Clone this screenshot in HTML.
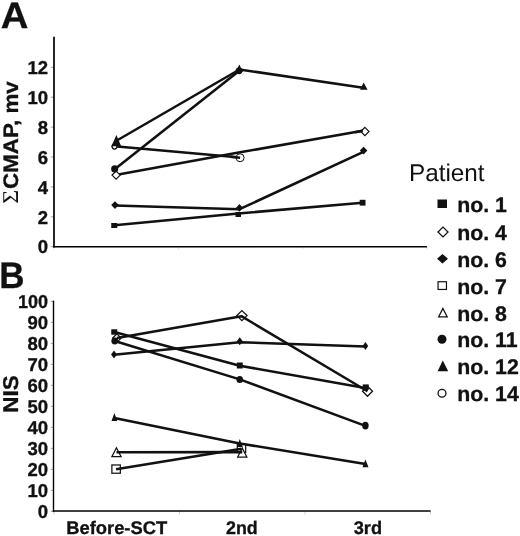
<!DOCTYPE html>
<html lang="en"><head><meta charset="utf-8"><title>Figure</title>
<style>
html,body{margin:0;padding:0;background:#fff;}
body{width:520px;height:536px;overflow:hidden;font-family:"Liberation Sans",Arial,Helvetica,sans-serif;}
svg{display:block;opacity:0.999;will-change:transform;}
</style></head><body>
<svg width="520" height="536" viewBox="0 0 520 536" text-rendering="geometricPrecision">
<rect width="520" height="536" fill="#fff"/>
<g stroke="#999" stroke-width="0.9" fill="none">
<line x1="50.8" y1="246.70" x2="54" y2="246.70"/>
<line x1="50.8" y1="216.80" x2="54" y2="216.80"/>
<line x1="50.8" y1="186.90" x2="54" y2="186.90"/>
<line x1="50.8" y1="157.00" x2="54" y2="157.00"/>
<line x1="50.8" y1="127.10" x2="54" y2="127.10"/>
<line x1="50.8" y1="97.20" x2="54" y2="97.20"/>
<line x1="50.8" y1="67.30" x2="54" y2="67.30"/>
<line x1="50.8" y1="511.35" x2="54" y2="511.35"/>
<line x1="50.8" y1="490.35" x2="54" y2="490.35"/>
<line x1="50.8" y1="469.35" x2="54" y2="469.35"/>
<line x1="50.8" y1="448.35" x2="54" y2="448.35"/>
<line x1="50.8" y1="427.35" x2="54" y2="427.35"/>
<line x1="50.8" y1="406.35" x2="54" y2="406.35"/>
<line x1="50.8" y1="385.35" x2="54" y2="385.35"/>
<line x1="50.8" y1="364.35" x2="54" y2="364.35"/>
<line x1="50.8" y1="343.35" x2="54" y2="343.35"/>
<line x1="50.8" y1="322.35" x2="54" y2="322.35"/>
<line x1="50.8" y1="301.35" x2="54" y2="301.35"/>
</g>
<g stroke="#ccc" stroke-width="1" fill="none">
<line x1="54" y1="511" x2="54" y2="514.5"/>
<line x1="179.5" y1="511" x2="179.5" y2="514.5"/>
<line x1="305" y1="511" x2="305" y2="514.5"/>
<line x1="430.5" y1="511" x2="430.5" y2="514.5"/>
<line x1="54" y1="246.5" x2="54" y2="249.5" stroke="#e4e4e4"/>
<line x1="178.5" y1="246.5" x2="178.5" y2="249.5" stroke="#e4e4e4"/>
<line x1="303" y1="246.5" x2="303" y2="249.5" stroke="#e4e4e4"/>
<line x1="427" y1="246.5" x2="427" y2="249.5" stroke="#e4e4e4"/>
</g>
<g stroke="#000" fill="none">
<line x1="54" y1="36.8" x2="54" y2="247.4" stroke-width="1.7"/>
<line x1="53.15" y1="246.65" x2="427" y2="246.65" stroke-width="1.5"/>
<line x1="53.5" y1="300.6" x2="53.5" y2="511.7" stroke-width="1.4"/>
<line x1="52.8" y1="511.0" x2="430.6" y2="511.0" stroke-width="1.4"/>
</g>
<g font-family="'Liberation Sans', Arial, Helvetica, sans-serif" fill="#111">
<text transform="translate(0.7,28.1) scale(1.064,1.02)" font-size="36" text-anchor="start" font-weight="bold" stroke="#111" stroke-width="0.3">A</text>
<text transform="translate(-0.7,288) scale(0.985,1.04)" font-size="35.5" text-anchor="start" font-weight="bold" stroke="#111" stroke-width="0.3">B</text>
<text transform="translate(48,253.4) scale(1.09,1.1)" font-size="17" text-anchor="end" font-weight="bold" stroke="#111" stroke-width="0.3">0</text>
<text transform="translate(48,223.5) scale(1.09,1.1)" font-size="17" text-anchor="end" font-weight="bold" stroke="#111" stroke-width="0.3">2</text>
<text transform="translate(48,193.6) scale(1.09,1.1)" font-size="17" text-anchor="end" font-weight="bold" stroke="#111" stroke-width="0.3">4</text>
<text transform="translate(48,163.7) scale(1.09,1.1)" font-size="17" text-anchor="end" font-weight="bold" stroke="#111" stroke-width="0.3">6</text>
<text transform="translate(48,133.8) scale(1.09,1.1)" font-size="17" text-anchor="end" font-weight="bold" stroke="#111" stroke-width="0.3">8</text>
<text transform="translate(48,103.9) scale(1.09,1.1)" font-size="17" text-anchor="end" font-weight="bold" stroke="#111" stroke-width="0.3">10</text>
<text transform="translate(48,74.0) scale(1.09,1.1)" font-size="17" text-anchor="end" font-weight="bold" stroke="#111" stroke-width="0.3">12</text>
<text transform="translate(48,518.05) scale(1.09,1.1)" font-size="17" text-anchor="end" font-weight="bold" stroke="#111" stroke-width="0.3">0</text>
<text transform="translate(48,497.05) scale(1.09,1.1)" font-size="17" text-anchor="end" font-weight="bold" stroke="#111" stroke-width="0.3">10</text>
<text transform="translate(48,476.05) scale(1.09,1.1)" font-size="17" text-anchor="end" font-weight="bold" stroke="#111" stroke-width="0.3">20</text>
<text transform="translate(48,455.05) scale(1.09,1.1)" font-size="17" text-anchor="end" font-weight="bold" stroke="#111" stroke-width="0.3">30</text>
<text transform="translate(48,434.05) scale(1.09,1.1)" font-size="17" text-anchor="end" font-weight="bold" stroke="#111" stroke-width="0.3">40</text>
<text transform="translate(48,413.05) scale(1.09,1.1)" font-size="17" text-anchor="end" font-weight="bold" stroke="#111" stroke-width="0.3">50</text>
<text transform="translate(48,392.05) scale(1.09,1.1)" font-size="17" text-anchor="end" font-weight="bold" stroke="#111" stroke-width="0.3">60</text>
<text transform="translate(48,371.05) scale(1.09,1.1)" font-size="17" text-anchor="end" font-weight="bold" stroke="#111" stroke-width="0.3">70</text>
<text transform="translate(48,350.05) scale(1.09,1.1)" font-size="17" text-anchor="end" font-weight="bold" stroke="#111" stroke-width="0.3">80</text>
<text transform="translate(48,329.05) scale(1.09,1.1)" font-size="17" text-anchor="end" font-weight="bold" stroke="#111" stroke-width="0.3">90</text>
<text transform="translate(48,308.05) scale(1.06,1.1)" font-size="17" text-anchor="end" font-weight="bold" stroke="#111" stroke-width="0.3">100</text>
<text transform="translate(116.7,534) scale(1.08,1.07)" font-size="17" text-anchor="middle" font-weight="bold" stroke="#111" stroke-width="0.3">Before-SCT</text>
<text transform="translate(241.9,534) scale(1.05,1.07)" font-size="17" text-anchor="middle" font-weight="bold" stroke="#111" stroke-width="0.3">2nd</text>
<text transform="translate(367.9,534) scale(1.07,1.07)" font-size="17" text-anchor="middle" font-weight="bold" stroke="#111" stroke-width="0.3">3rd</text>
<text transform="translate(17.7,203.8) rotate(-90) scale(1.064,1)" font-size="21" font-weight="bold" stroke="#111" stroke-width="0.3"><tspan font-family="'Liberation Serif', 'DejaVu Serif', serif" font-weight="normal" font-size="22.6" stroke="none">Σ</tspan><tspan x="8.16"> CMAP, mv</tspan></text>
<text transform="translate(17.7,394) rotate(-90) scale(1.05,1.0)" font-size="21.4" text-anchor="middle" font-weight="bold" stroke="#111" stroke-width="0.3">NIS</text>
<text transform="translate(409.0,180.9) scale(1.075,1.07)" font-size="22.6" text-anchor="start" font-weight="normal">Patient</text>
<text transform="translate(457.2,211.8) scale(1.03,1.02)" font-size="20.7" text-anchor="start" font-weight="bold" stroke="#111" stroke-width="0.3">no. 1</text>
<text transform="translate(457.2,239.8) scale(1.03,1.02)" font-size="20.7" text-anchor="start" font-weight="bold" stroke="#111" stroke-width="0.3">no. 4</text>
<text transform="translate(457.2,266.8) scale(1.03,1.02)" font-size="20.7" text-anchor="start" font-weight="bold" stroke="#111" stroke-width="0.3">no. 6</text>
<text transform="translate(457.2,294.3) scale(1.03,1.02)" font-size="20.7" text-anchor="start" font-weight="bold" stroke="#111" stroke-width="0.3">no. 7</text>
<text transform="translate(457.2,320.55) scale(1.03,1.02)" font-size="20.7" text-anchor="start" font-weight="bold" stroke="#111" stroke-width="0.3">no. 8</text>
<text transform="translate(457.2,346.8) scale(1.03,1.02)" font-size="20.7" text-anchor="start" font-weight="bold" stroke="#111" stroke-width="0.3">no. 11</text>
<text transform="translate(457.2,373.8) scale(1.03,1.02)" font-size="20.7" text-anchor="start" font-weight="bold" stroke="#111" stroke-width="0.3">no. 12</text>
<text transform="translate(457.2,400.55) scale(1.03,1.02)" font-size="20.7" text-anchor="start" font-weight="bold" stroke="#111" stroke-width="0.3">no. 14</text>
</g>
<rect x="437.50" y="199.50" width="9.50" height="8.50" fill="#111"/>
<polygon points="443.00,227.10 448.00,232.00 443.00,236.90 438.00,232.00" fill="#fff" stroke="#111" stroke-width="1.3"/>
<polygon points="442.50,254.05 448.00,258.75 442.50,263.45 437.00,258.75" fill="#111"/>
<rect x="438.05" y="281.75" width="8.40" height="7.70" fill="#fff" stroke="#111" stroke-width="1.2"/>
<polygon points="442.90,308.50 447.20,316.80 438.70,316.80" fill="#fff" stroke="#111" stroke-width="1.3" stroke-linejoin="miter"/>
<ellipse cx="442.00" cy="339.25" rx="4.50" ry="4.50" fill="#111"/>
<polygon points="442.80,360.50 448.20,371.25 437.60,371.25" fill="#111"/>
<ellipse cx="442.00" cy="393.25" rx="3.95" ry="3.95" fill="#fff" stroke="#111" stroke-width="1.3"/>
<polyline points="114.60,146.30 240.10,157.60" fill="none" stroke="#111" stroke-width="2.55" stroke-linejoin="round" stroke-linecap="butt"/>
<ellipse cx="114.50" cy="146.60" rx="2.45" ry="2.45" fill="#fff" stroke="#111" stroke-width="1.3"/>
<ellipse cx="240.10" cy="157.75" rx="4.00" ry="4.00" fill="#fff" stroke="#111" stroke-width="1.0"/>
<polyline points="230.00,156.85 240.10,157.75" fill="none" stroke="#111" stroke-width="2.55" stroke-linejoin="round" stroke-linecap="butt"/>
<polyline points="114.50,225.30 238.50,213.50 362.60,202.70" fill="none" stroke="#111" stroke-width="2.55" stroke-linejoin="round" stroke-linecap="butt"/>
<rect x="111.25" y="223.00" width="6.00" height="5.00" fill="#111"/>
<rect x="235.50" y="212.00" width="5.50" height="5.00" fill="#111"/>
<rect x="359.70" y="199.80" width="5.80" height="5.80" fill="#111"/>
<polyline points="115.60,175.00 240.00,152.30 364.20,130.60" fill="none" stroke="#111" stroke-width="2.55" stroke-linejoin="round" stroke-linecap="butt"/>
<polygon points="116.10,171.10 120.20,175.10 116.10,179.10 112.00,175.10" fill="#fff" stroke="#111" stroke-width="1.2"/>
<polygon points="364.90,127.40 369.00,131.50 364.90,135.60 360.80,131.50" fill="#fff" stroke="#111" stroke-width="1.2"/>
<polyline points="355.00,132.20 362.80,130.85" fill="none" stroke="#111" stroke-width="2.55" stroke-linejoin="round" stroke-linecap="butt"/>
<polyline points="115.00,205.60 239.60,209.20 363.40,151.80" fill="none" stroke="#111" stroke-width="2.55" stroke-linejoin="round" stroke-linecap="butt"/>
<polygon points="115.00,201.30 118.80,205.10 115.00,208.90 111.20,205.10" fill="#111"/>
<polygon points="239.40,204.10 243.00,207.90 239.40,211.70 235.80,207.90" fill="#111"/>
<polygon points="363.60,146.80 367.40,150.60 363.60,154.40 359.80,150.60" fill="#111"/>
<polyline points="115.00,169.00 239.00,71.00" fill="none" stroke="#111" stroke-width="2.55" stroke-linejoin="round" stroke-linecap="butt"/>
<ellipse cx="114.70" cy="168.90" rx="3.55" ry="3.55" fill="#111"/>
<ellipse cx="239.00" cy="70.80" rx="3.40" ry="3.40" fill="#111"/>
<polyline points="116.00,141.00 239.50,69.50 363.20,87.80" fill="none" stroke="#111" stroke-width="2.55" stroke-linejoin="round" stroke-linecap="butt"/>
<polygon points="116.40,134.90 121.20,146.20 111.40,146.20" fill="#111"/>
<polygon points="239.30,64.40 243.00,72.00 235.60,72.00" fill="#111"/>
<polygon points="363.60,82.60 367.60,89.80 360.10,89.80" fill="#111"/>
<rect x="111.88" y="464.98" width="8.45" height="8.25" fill="#fff" stroke="#111" stroke-width="1.25"/>
<rect x="237.32" y="444.27" width="8.35" height="8.25" fill="#fff" stroke="#111" stroke-width="1.25"/>
<polygon points="116.40,447.80 121.10,456.70 111.90,456.70" fill="#fff" stroke="#111" stroke-width="1.25" stroke-linejoin="miter"/>
<polygon points="242.25,448.10 246.85,457.05 237.65,457.05" fill="#fff" stroke="#111" stroke-width="1.25" stroke-linejoin="miter"/>
<polyline points="116.10,469.30 241.50,448.70" fill="none" stroke="#111" stroke-width="2.55" stroke-linejoin="round" stroke-linecap="butt"/>
<polyline points="116.50,452.30 242.25,452.10" fill="none" stroke="#111" stroke-width="2.55" stroke-linejoin="round" stroke-linecap="butt"/>
<polygon points="116.90,333.90 121.10,338.10 116.90,342.30 112.70,338.10" fill="#fff" stroke="#111" stroke-width="1.3"/>
<polygon points="241.90,310.60 247.00,315.60 241.90,320.60 236.80,315.60" fill="#fff" stroke="#111" stroke-width="1.3"/>
<polygon points="367.50,386.25 372.50,391.25 367.50,396.25 362.50,391.25" fill="#fff" stroke="#111" stroke-width="1.3"/>
<polyline points="116.90,338.10 241.40,316.20 367.50,391.25" fill="none" stroke="#111" stroke-width="2.55" stroke-linejoin="round" stroke-linecap="butt"/>
<polyline points="114.25,332.00 239.80,365.70 365.20,388.00" fill="none" stroke="#111" stroke-width="2.55" stroke-linejoin="round" stroke-linecap="butt"/>
<rect x="111.25" y="329.30" width="6.00" height="5.40" fill="#111"/>
<rect x="236.85" y="362.50" width="5.90" height="6.00" fill="#111"/>
<rect x="362.75" y="384.40" width="6.00" height="5.60" fill="#111"/>
<polyline points="114.00,354.80 239.75,342.20 365.40,346.60" fill="none" stroke="#111" stroke-width="2.55" stroke-linejoin="round" stroke-linecap="butt"/>
<polygon points="114.00,350.40 116.90,354.40 114.00,358.40 111.10,354.40" fill="#111"/>
<polygon points="239.75,337.35 242.75,341.25 239.75,345.15 236.75,341.25" fill="#111"/>
<polygon points="365.40,341.95 368.20,346.00 365.40,350.05 362.60,346.00" fill="#111"/>
<polyline points="114.75,341.00 239.75,379.40 365.40,425.90" fill="none" stroke="#111" stroke-width="2.55" stroke-linejoin="round" stroke-linecap="butt"/>
<ellipse cx="114.75" cy="341.00" rx="3.40" ry="3.40" fill="#111"/>
<ellipse cx="239.75" cy="379.40" rx="3.30" ry="3.50" fill="#111"/>
<ellipse cx="365.40" cy="425.60" rx="3.25" ry="3.90" fill="#111"/>
<polyline points="114.40,418.00 239.75,443.50 365.40,464.00" fill="none" stroke="#111" stroke-width="2.55" stroke-linejoin="round" stroke-linecap="butt"/>
<polygon points="114.40,413.10 117.30,421.00 111.50,421.00" fill="#111"/>
<polygon points="239.75,439.00 242.80,446.90 236.90,446.90" fill="#111"/>
<polygon points="365.40,459.40 368.50,467.25 362.50,467.25" fill="#111"/>
</svg>
</body></html>
